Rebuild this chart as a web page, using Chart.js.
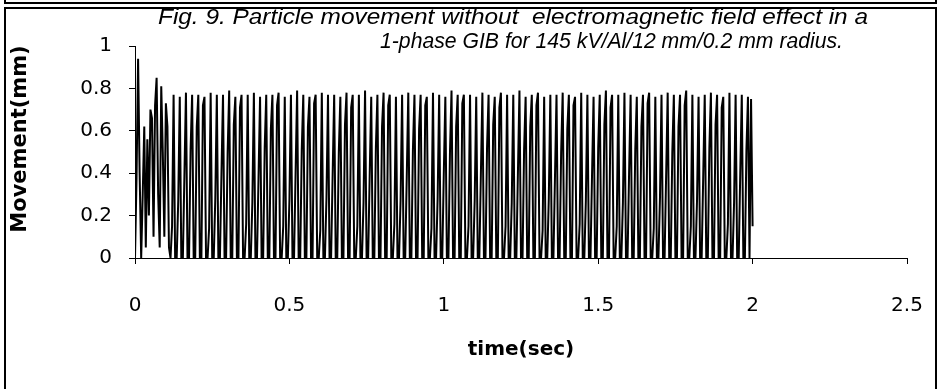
<!DOCTYPE html>
<html>
<head>
<meta charset="utf-8">
<script src="https://cdn.jsdelivr.net/npm/chart.js@4.4.1/dist/chart.umd.min.js"></script>
<style>
  html, body { margin: 0; padding: 0; background: #fff; }
  #wrap { position: relative; width: 939px; height: 389px; overflow: hidden; }
  .box { position: absolute; border: 2px solid #000; box-sizing: border-box; }
  canvas { position: absolute; left: 0; top: 0; }
</style>
</head>
<body>
<div id="wrap">
  <div class="box" style="left:4px; top:-30px; width:933px; height:34px;"></div>
  <div class="box" style="left:4px; top:7px; width:933px; height:420px;"></div>
  <canvas id="c" width="939" height="389"></canvas>
</div>
<script>
// ---- data ----
const titleLines = [
  "Fig. 9. Particle movement without  electromagnetic field effect in a",
  "1-phase GIB for 145 kV/Al/12 mm/0.2 mm radius."
];
const xTitle = "time(sec)";
const yTitle = "Movement(mm)";
const xTickValues = [0, 0.5, 1, 1.5, 2, 2.5];
const yTickValues = [0, 0.2, 0.4, 0.6, 0.8, 1];

const sampleStep = 0.005;   // sec between recorded samples
const groundLevel = 0;
// first 0.11 s: irregular start-up bounces (mm)
const startupSamples = [
  0.00, 0.38, 0.94, 0.40, 0.00, 0.30, 0.62, 0.05, 0.56, 0.20, 0.70, 0.66,
  0.10, 0.72, 0.85, 0.30, 0.05, 0.81, 0.50, 0.10, 0.73, 0.62, 0.05
];
// steady bouncing: for every bounce the sampled level while rising and the peak (mm)
const riseLevel = [
  0.15,0.27,0.39,0.51,0.62,0.72, 0.14,0.28,0.40,0.50,0.63,0.71,
  0.16,0.26,0.38,0.52,0.61,0.72, 0.15,0.27,0.40,0.51,0.62,0.73,
  0.13,0.28,0.39,0.50,0.63,0.71, 0.15,0.26,0.39,0.52,0.62,0.72,
  0.16,0.27,0.38,0.51,0.61,0.72, 0.14,0.28,0.40,0.50,0.62,0.73,
  0.15,0.27,0.39,0.52,0.63,0.71, 0.15,0.26,0.40,0.51,0.62,0.72,
  0.13,0.28,0.38,0.50,0.61,0.72, 0.16,0.27,0.39,0.52,0.63,0.71,
  0.15,0.26,0.40,0.51,0.62,0.73, 0.14,0.28,0.39,0.50,0.62,0.72,
  0.15,0.27,0.38,0.52,0.63,0.71, 0.16,0.26,0.40,0.51
];
const peakLevel = [
  0.77,0.76,0.78,0.77,0.77,0.76, 0.78,0.77,0.77,0.79,0.76,0.77,
  0.77,0.78,0.76,0.77,0.77,0.78, 0.76,0.77,0.79,0.77,0.76,0.77,
  0.78,0.77,0.77,0.76,0.78,0.77, 0.77,0.79,0.76,0.77,0.78,0.77,
  0.76,0.77,0.78,0.77,0.77,0.76, 0.78,0.77,0.76,0.79,0.77,0.77,
  0.77,0.76,0.78,0.77,0.76,0.78, 0.77,0.77,0.79,0.76,0.77,0.78,
  0.76,0.77,0.77,0.78,0.77,0.76, 0.78,0.77,0.76,0.77,0.79,0.77,
  0.77,0.78,0.77,0.76,0.77,0.78, 0.76,0.77,0.78,0.77,0.77,0.79,
  0.77,0.76,0.77,0.78,0.77,0.76, 0.78,0.77,0.77,0.76
];
// last two samples before the record stops at t = 2 s
const finalSamples = [0.75, 0.15];

// ---- assemble the sampled record ----
const movement = startupSamples.slice();
riseLevel.forEach((r, i) => { movement.push(groundLevel, r, peakLevel[i], groundLevel); });
finalSamples.forEach(v => movement.push(v));
const points = movement.map((v, i) => ({ x: i * sampleStep, y: v }));

const FONT = "'DejaVu Sans', Verdana, sans-serif";
const TITLE_FONT = "'Liberation Sans', Arial, sans-serif";

const textPlugin = {
  id: 'figText',
  afterDraw(chart) {
    const ctx = chart.ctx;
    const spans = [[158, 868, 18], [380, 843, 42]];
    ctx.save();
    ctx.fillStyle = '#000';
    ctx.textBaseline = 'middle';
    ctx.font = "italic 22px " + TITLE_FONT;
    ctx.textAlign = 'left';
    titleLines.forEach((txt, i) => {
      const [x0, x1, y] = spans[i];
      const w = ctx.measureText(txt).width;
      ctx.save();
      ctx.translate(x0, y);
      ctx.scale((x1 - x0) / w, 1);
      ctx.fillText(txt, 0, 0);
      ctx.restore();
    });
    // y axis title
    ctx.font = "bold 21px " + FONT;
    ctx.textAlign = 'center';
    ctx.save();
    ctx.translate(21, 139);
    ctx.rotate(-Math.PI / 2);
    ctx.fillText(yTitle, 0, 0);
    ctx.restore();
    ctx.restore();
  }
};

new Chart(document.getElementById('c'), {
  type: 'line',
  data: {
    datasets: [{
      data: points,
      borderColor: '#000',
      borderWidth: 2,
      borderJoinStyle: 'miter',
      pointRadius: 0,
      fill: false,
      tension: 0
    }]
  },
  options: {
    responsive: false,
    animation: false,
    events: [],
    layout: { padding: { left: 0, right: 32, top: 46, bottom: 0 } },
    plugins: { legend: { display: false }, tooltip: { enabled: false }, title: { display: false } },
    scales: {
      x: {
        type: 'linear',
        min: 0, max: 2.5,
        afterBuildTicks(scale) { scale.ticks = xTickValues.map(v => ({ value: v })); },
        afterFit(scale) { scale.height = 131; scale.paddingLeft = 0; scale.paddingRight = 0; },
        border: { display: true, color: '#000', width: 1 },
        grid: { drawOnChartArea: false, drawTicks: true, tickLength: 6, color: '#000' },
        ticks: { color: '#000', padding: 30, maxRotation: 0, font: { family: FONT, size: 20 },
                 callback: v => String(v) },
        title: { display: true, text: xTitle, color: '#000',
                 font: { family: FONT, size: 20, weight: 'bold' }, padding: { top: 0, bottom: 27 } }
      },
      y: {
        type: 'linear',
        min: 0, max: 1,
        afterBuildTicks(scale) { scale.ticks = yTickValues.map(v => ({ value: v })); },
        afterFit(scale) { scale.width = 135; scale.paddingTop = 0; scale.paddingBottom = 0; },
        border: { display: true, color: '#000', width: 1 },
        grid: { drawOnChartArea: false, drawTicks: true, tickLength: 6, color: '#000' },
        ticks: { color: '#000', padding: 17, font: { family: FONT, size: 20 },
                 callback: v => String(v) },
        title: { display: false }
      }
    }
  },
  plugins: [textPlugin]
});
</script>
</body>
</html>
